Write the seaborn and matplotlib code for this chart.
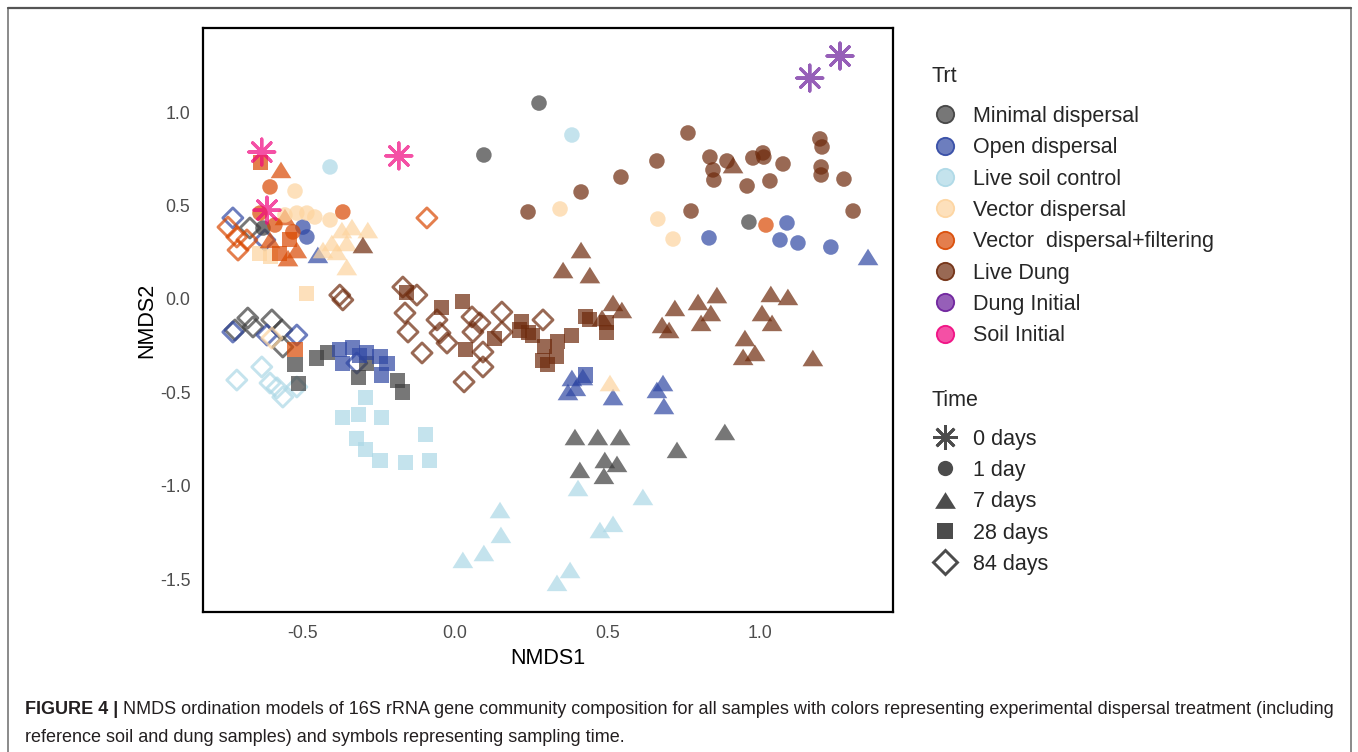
import numpy as np
import pandas as pd
import matplotlib
matplotlib.use("Agg")
import matplotlib.pyplot as plt
import seaborn as sns
from matplotlib.lines import Line2D
from matplotlib import font_manager

# ---------------- data ----------------
trt_order = ["Minimal dispersal", "Open dispersal", "Live soil control", "Vector dispersal",
             "Vector  dispersal+filtering", "Live Dung", "Dung Initial", "Soil Initial"]
trt_colors = ["#3d3d3d", "#2f47a3", "#acd8e6", "#fdd49e", "#d94801", "#6e2a0c", "#6a1b9a", "#f0067f"]
time_order = ["0 days", "1 day", "7 days", "28 days", "84 days"]
x_ticks = [-0.5, 0.0, 0.5, 1.0]
y_ticks = [-1.5, -1.0, -0.5, 0.0, 0.5, 1.0]

# Minimal dispersal
minimal_1 = [(0.276, 1.049), (0.095, 0.771), (0.965, 0.412), (-0.630, 0.380)]
minimal_7 = [(0.394, -0.739), (0.469, -0.739), (0.542, -0.739), (0.410, -0.915), (0.492, -0.862),
             (0.489, -0.947), (0.532, -0.883), (0.729, -0.808), (0.886, -0.712)]
minimal_28 = [(-0.525, -0.353), (-0.515, -0.450), (-0.453, -0.316), (-0.417, -0.289), (-0.318, -0.418),
              (-0.190, -0.434), (-0.171, -0.498), (-0.289, -0.343)]
minimal_84 = [(-0.680, -0.102), (-0.722, -0.166), (-0.663, -0.150), (-0.601, -0.112), (-0.568, -0.166),
              (-0.565, -0.257), (-0.673, 0.380)]
# Open dispersal
open_1 = [(-0.499, 0.385), (-0.486, 0.332), (0.834, 0.327), (1.067, 0.316), (1.126, 0.300),
          (1.234, 0.278), (1.090, 0.407)]
open_7 = [(-0.450, 0.236), (1.356, 0.225), (0.384, -0.423), (0.371, -0.498), (0.420, -0.418),
          (0.519, -0.525), (0.683, -0.450), (0.663, -0.487), (0.686, -0.573), (0.397, -0.476)]
open_28 = [(-0.378, -0.273), (-0.335, -0.262), (-0.368, -0.343), (-0.289, -0.289), (-0.246, -0.310),
           (-0.223, -0.343), (-0.240, -0.407), (0.427, -0.407), (-0.312, -0.300)]
open_84 = [(-0.729, 0.434), (-0.624, 0.316), (-0.729, -0.177), (-0.617, -0.193), (-0.519, -0.193),
           (-0.322, -0.343)]
# Live soil control
soilctl_1 = [(-0.410, 0.707), (0.384, 0.878)]
soilctl_7 = [(0.148, -1.130), (0.151, -1.263), (0.095, -1.360), (0.026, -1.397), (0.335, -1.520),
             (0.378, -1.451), (0.404, -1.012), (0.476, -1.237), (0.519, -1.204), (0.617, -1.060)]
soilctl_28 = [(-0.295, -0.525), (-0.368, -0.632), (-0.318, -0.621), (-0.240, -0.632), (-0.322, -0.749),
              (-0.295, -0.808), (-0.246, -0.867), (-0.161, -0.873), (-0.082, -0.867), (-0.098, -0.728)]
soilctl_84 = [(-0.716, -0.434), (-0.634, -0.364), (-0.607, -0.450), (-0.565, -0.525), (-0.584, -0.476),
              (-0.519, -0.471)]
# Vector dispersal
vector_1 = [(-0.525, 0.578), (-0.519, 0.460), (-0.486, 0.460), (-0.460, 0.439), (-0.410, 0.423),
            (0.345, 0.482), (0.666, 0.428), (0.716, 0.321), (-0.558, 0.450)]
vector_7 = [(-0.371, 0.369), (-0.338, 0.385), (-0.286, 0.369), (-0.404, 0.300), (-0.433, 0.262),
            (-0.355, 0.300), (-0.387, 0.252), (-0.355, 0.171), (0.509, -0.450)]
vector_28 = [(-0.486, 0.027), (-0.607, 0.225), (-0.640, 0.246)]
vector_84 = [(-0.601, -0.209)]
# Vector dispersal + filtering
vecfilt_1 = [(-0.607, 0.600), (-0.640, 0.460), (-0.368, 0.466), (1.021, 0.396), (-0.532, 0.359),
             (-0.591, 0.396)]
vecfilt_7 = [(-0.571, 0.691), (-0.558, 0.439), (-0.548, 0.219), (-0.519, 0.262), (-0.607, 0.316)]
vecfilt_28 = [(-0.637, 0.733), (-0.575, 0.246), (-0.525, -0.273), (-0.542, 0.316)]
vecfilt_84 = [(-0.745, 0.385), (-0.716, 0.332), (-0.712, 0.262), (-0.683, 0.316), (-0.092, 0.434)]
# Live Dung
dung_1 = [(0.240, 0.466), (0.414, 0.573), (0.545, 0.653), (0.663, 0.739), (0.765, 0.889), (0.775, 0.471),
          (0.837, 0.760), (0.847, 0.691), (0.850, 0.637), (0.893, 0.739), (0.959, 0.605), (0.978, 0.755),
          (1.011, 0.782), (1.014, 0.760), (1.034, 0.632), (1.077, 0.723), (1.198, 0.857), (1.205, 0.814),
          (1.202, 0.707), (1.202, 0.664), (1.277, 0.642), (1.307, 0.471)]
dung_7 = [(0.913, 0.717), (-0.302, 0.289), (0.414, 0.262), (0.355, 0.155), (0.443, 0.128), (0.519, -0.021),
          (0.548, -0.059), (0.483, -0.102), (0.722, -0.048), (0.798, -0.016), (0.860, 0.021), (0.840, -0.075),
          (0.808, -0.128), (0.680, -0.139), (0.703, -0.166), (1.037, 0.027), (1.093, 0.011), (1.008, -0.075),
          (1.041, -0.128), (0.952, -0.209), (0.985, -0.289), (0.946, -0.310), (1.175, -0.316)]
dung_28 = [(-0.158, 0.037), (-0.043, -0.043), (0.026, -0.016), (0.220, -0.123), (0.213, -0.166),
           (0.240, -0.182), (0.256, -0.193), (0.295, -0.257), (0.338, -0.230), (0.384, -0.193),
           (0.286, -0.327), (0.305, -0.353), (0.335, -0.310), (0.427, -0.096), (0.443, -0.112),
           (0.499, -0.128), (0.499, -0.182), (0.036, -0.273), (0.131, -0.209)]
dung_84 = [(-0.378, 0.021), (-0.368, -0.005), (-0.171, 0.064), (-0.125, 0.021), (-0.164, -0.075),
           (-0.059, -0.112), (-0.154, -0.177), (-0.049, -0.182), (-0.108, -0.289), (-0.026, -0.236),
           (0.056, -0.096), (0.082, -0.128), (0.154, -0.070), (0.154, -0.177), (0.092, -0.284),
           (0.092, -0.364), (0.030, -0.444), (0.289, -0.112), (0.059, -0.177)]
# Initial reference samples
dung_init_0 = [(1.264, 1.301), (1.165, 1.183)]
soil_init_0 = [(-0.634, 0.787), (-0.184, 0.766), (-0.617, 0.476)]

caption_bold = "FIGURE 4 |"
caption_line1 = (" NMDS ordination models of 16S rRNA gene community composition for all samples with colors "
                 "representing experimental dispersal treatment (including")
caption_line2 = "reference soil and dung samples) and symbols representing sampling time."

# ---------------- assemble ----------------
groups = [
    ("Minimal dispersal", "1 day", minimal_1), ("Minimal dispersal", "7 days", minimal_7),
    ("Minimal dispersal", "28 days", minimal_28), ("Minimal dispersal", "84 days", minimal_84),
    ("Open dispersal", "1 day", open_1), ("Open dispersal", "7 days", open_7),
    ("Open dispersal", "28 days", open_28), ("Open dispersal", "84 days", open_84),
    ("Live soil control", "1 day", soilctl_1), ("Live soil control", "7 days", soilctl_7),
    ("Live soil control", "28 days", soilctl_28), ("Live soil control", "84 days", soilctl_84),
    ("Vector dispersal", "1 day", vector_1), ("Vector dispersal", "7 days", vector_7),
    ("Vector dispersal", "28 days", vector_28), ("Vector dispersal", "84 days", vector_84),
    ("Vector  dispersal+filtering", "1 day", vecfilt_1), ("Vector  dispersal+filtering", "7 days", vecfilt_7),
    ("Vector  dispersal+filtering", "28 days", vecfilt_28), ("Vector  dispersal+filtering", "84 days", vecfilt_84),
    ("Live Dung", "1 day", dung_1), ("Live Dung", "7 days", dung_7),
    ("Live Dung", "28 days", dung_28), ("Live Dung", "84 days", dung_84),
    ("Dung Initial", "0 days", dung_init_0), ("Soil Initial", "0 days", soil_init_0),
]
rows = []
for trt, tm, pts in groups:
    for x, y in pts:
        rows.append({"Trt": trt, "Time": tm, "NMDS1": x, "NMDS2": y})
df = pd.DataFrame(rows)
palette = dict(zip(trt_order, trt_colors))

# ---------------- style ----------------
sns.set_style("white")
plt.rcParams["font.family"] = ["Liberation Sans", "DejaVu Sans"]
plt.rcParams["axes.unicode_minus"] = False

W, H = 1358, 752
fig = plt.figure(figsize=(W / 100, H / 100), dpi=100)
ax = fig.add_axes([203 / W, 1 - 612 / H, (893 - 203) / W, (612 - 28) / H])

tri = [(-1.0, -0.8), (1.0, -0.8), (0.0, 0.8)]
time_style = {
    "84 days": dict(marker="D", s=104),
    "28 days": dict(marker="s", s=117),
    "7 days": dict(marker=tri, s=222),
    "1 day": dict(marker="o", s=125),
    "0 days": dict(marker=(8, 2, 0), s=350),
}
for tm in ["84 days", "28 days", "7 days", "1 day", "0 days"]:
    sub = df[df["Time"] == tm]
    st = time_style[tm]
    sns.scatterplot(data=sub, x="NMDS1", y="NMDS2", hue="Trt", hue_order=trt_order, palette=palette,
                    marker=st["marker"], s=st["s"], alpha=0.7, linewidth=0, legend=False, ax=ax)
    coll = ax.collections[-1]
    if tm in ("84 days", "0 days"):
        fc = coll.get_facecolors()
        coll.set_edgecolors(fc)
        coll.set_facecolors("none")
        coll.set_linewidths(2.1 if tm == "84 days" else 2.2)

ax.set_xlim(-0.827, 1.438)
ax.set_ylim(-1.676, 1.451)
ax.set_xticks(x_ticks)
ax.set_xticklabels([f"{v:.1f}" for v in x_ticks])
ax.set_yticks(y_ticks)
ax.set_yticklabels([f"{v:.1f}" for v in y_ticks])
for sp in ax.spines.values():
    sp.set_visible(True)
    sp.set_color("black")
    sp.set_linewidth(1.6)
ax.tick_params(axis="both", direction="out", length=3.5, width=1.0, color="#333333",
               labelsize=12.8, labelcolor="#4d4d4d", pad=5.5)
ax.set_xlabel("NMDS1", fontsize=15.5, color="black", labelpad=5)
ax.set_ylabel("NMDS2", fontsize=15.5, color="black", labelpad=2)
ax.grid(False)

# ---------------- legends ----------------
leg_fs = 15.5
trt_handles = [Line2D([0], [0], linestyle="none", marker="o", markersize=12.5,
                      markerfacecolor=matplotlib.colors.to_rgba(c, 0.7),
                      markeredgecolor=matplotlib.colors.to_rgba(c, 0.9), markeredgewidth=1.3)
               for c in trt_colors]
k = (0, 0, 0, 0.7)
time_handles = [
    Line2D([0], [0], linestyle="none", marker=(8, 2, 0), markersize=18, markeredgecolor=k, markeredgewidth=2.0),
    Line2D([0], [0], linestyle="none", marker="o", markersize=11, markerfacecolor=k, markeredgewidth=0),
    Line2D([0], [0], linestyle="none", marker=tri, markersize=15, markerfacecolor=k, markeredgewidth=0),
    Line2D([0], [0], linestyle="none", marker="s", markersize=11, markerfacecolor=k, markeredgewidth=0),
    Line2D([0], [0], linestyle="none", marker="D", markersize=12, markerfacecolor="none",
           markeredgecolor=k, markeredgewidth=2.1),
]
common = dict(loc="upper left", frameon=False, fontsize=leg_fs, handlelength=1.3, handletextpad=0.65,
              labelspacing=0.48, borderpad=0, borderaxespad=0)
leg1 = fig.legend(handles=trt_handles, labels=trt_order, bbox_to_anchor=(931 / W, 1 - 106 / H), **common)
leg2 = fig.legend(handles=time_handles, labels=time_order, bbox_to_anchor=(931 / W, 1 - 428.5 / H), **common)
fig.text(931 / W, 1 - 77 / H, "Trt", fontsize=leg_fs, va="center", ha="left")
fig.text(931 / W, 1 - 400 / H, "Time", fontsize=leg_fs, va="center", ha="left")

# ---------------- outer frame ----------------
fig.add_artist(Line2D([8 / W, 8 / W], [0, 1 - 8 / H], color="#777777", lw=1.2))
fig.add_artist(Line2D([1351 / W, 1351 / W], [0, 1 - 8 / H], color="#777777", lw=1.2))
fig.add_artist(Line2D([8 / W, 1351 / W], [1 - 8 / H, 1 - 8 / H], color="#555555", lw=1.6))

# ---------------- caption ----------------
names = {f.name for f in font_manager.fontManager.ttflist}
cap_font = "Liberation Sans Narrow" if "Liberation Sans Narrow" in names else "Liberation Sans"
cap_fs = 13.0
x0 = 25 / W
target = 1338 - 25
fig.canvas.draw()
r = fig.canvas.get_renderer()
for _ in range(3):
    tb = fig.text(x0, 1 - 710 / H, caption_bold, fontsize=cap_fs, fontweight="bold", family=cap_font,
                  va="center", ha="left", color="#231f20")
    tr = fig.text(x0, 1 - 710 / H, caption_line1, fontsize=cap_fs, family=cap_font,
                  va="center", ha="left", color="#231f20")
    wb = tb.get_window_extent(r).width
    wr = tr.get_window_extent(r).width
    tb.remove(); tr.remove()
    cap_fs = cap_fs * target / (wb + wr)
tb = fig.text(x0, 1 - 710 / H, caption_bold, fontsize=cap_fs, fontweight="bold", family=cap_font,
              va="center", ha="left", color="#231f20")
wb = tb.get_window_extent(r).width
fig.text(x0 + wb / W, 1 - 710 / H, caption_line1, fontsize=cap_fs, family=cap_font,
         va="center", ha="left", color="#231f20")
fig.text(x0, 1 - 738 / H, caption_line2, fontsize=cap_fs, family=cap_font,
         va="center", ha="left", color="#231f20")

fig.savefig("out.png", dpi=100)
